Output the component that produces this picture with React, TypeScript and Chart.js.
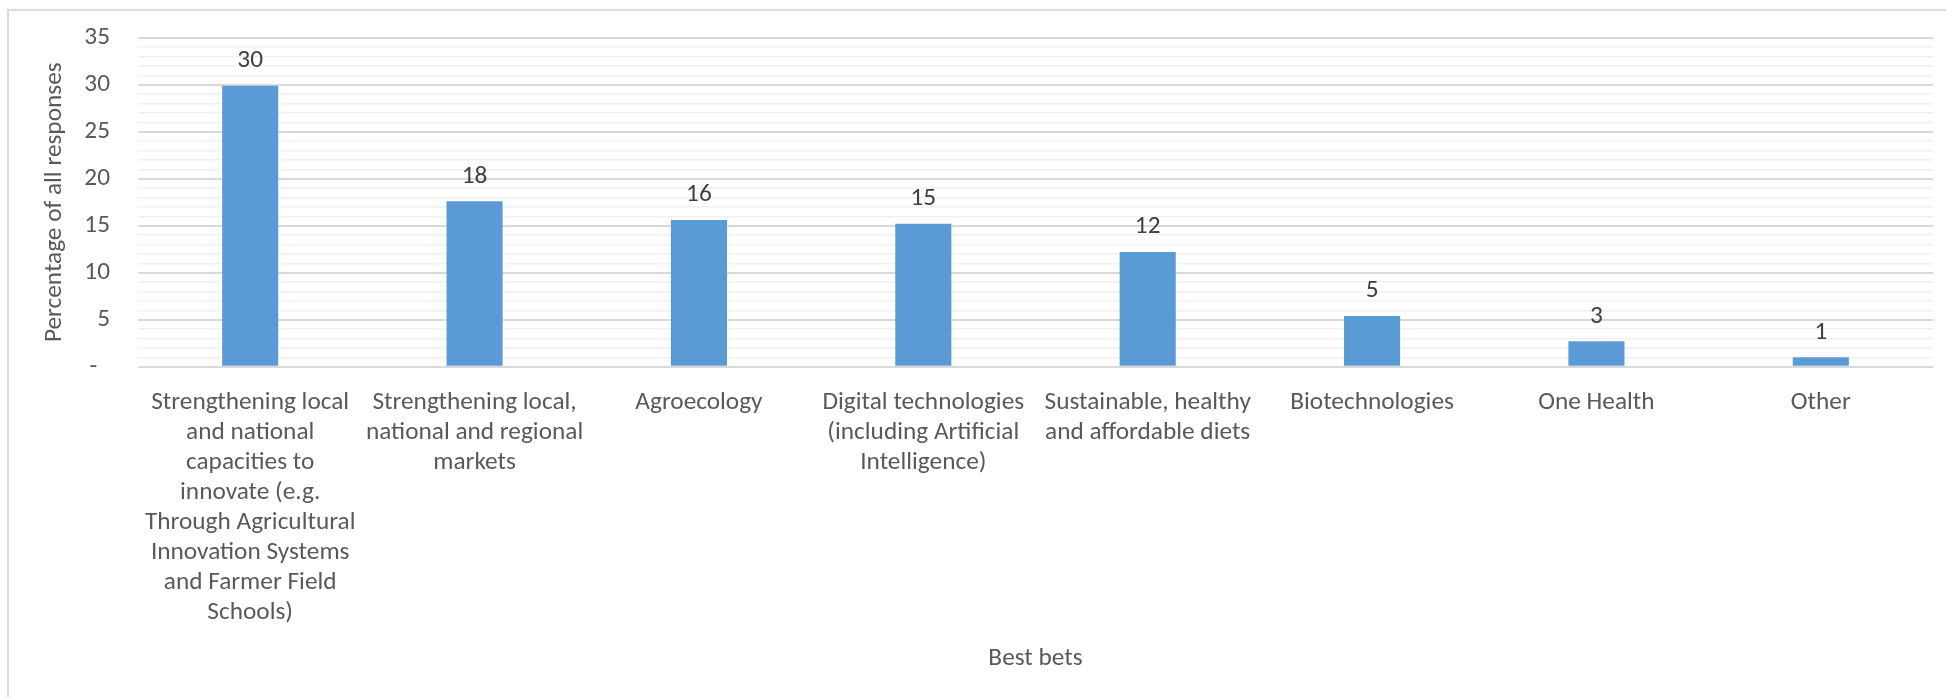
import React, { useEffect, useRef } from 'react';
import { Chart, registerables } from 'chart.js';

Chart.register(...registerables);

// ---- Data ----
const categories: string[][] = [
  ['Strengthening local', 'and national', 'capacities to', 'innovate (e.g.', 'Through Agricultural', 'Innovation Systems', 'and Farmer Field', 'Schools)'],
  ['Strengthening local,', 'national and regional', 'markets'],
  ['Agroecology'],
  ['Digital technologies', '(including Artificial', 'Intelligence)'],
  ['Sustainable, healthy', 'and affordable diets'],
  ['Biotechnologies'],
  ['One Health'],
  ['Other'],
];
const values: number[] = [29.9, 17.6, 15.6, 15.2, 12.2, 5.4, 2.7, 1.0];
const yMin = 0;
const yMax = 35;
const yMinorStep = 1;
const yMajorStep = 5;
const yAxisTitle = 'Percentage of all responses';
const xAxisTitle = 'Best bets';

const FAMILY = 'Carlito, Calibri, Lato, sans-serif';

function fitFontSize(): number {
  const c = document.createElement('canvas').getContext('2d');
  if (!c) return 23;
  c.font = `100px ${FAMILY}`;
  const w = c.measureText('Digital technologies').width;
  return Math.round((100 * 202) / w * 10) / 10;
}

export default function App() {
  const ref = useRef<HTMLCanvasElement | null>(null);

  useEffect(() => {
    if (!ref.current) return;
    const fs = fitFontSize();
    const font = { family: FAMILY, size: fs, lineHeight: '30px' };

    const valueLabels = {
      id: 'valueLabels',
      afterDatasetsDraw(chart: any) {
        const ctx = chart.ctx;
        const meta = chart.getDatasetMeta(0);
        ctx.save();
        ctx.font = `${fs}px ${FAMILY}`;
        ctx.fillStyle = '#404040';
        ctx.textAlign = 'center';
        ctx.textBaseline = 'middle';
        meta.data.forEach((el: any, i: number) => {
          ctx.fillText(String(Math.round(values[i])), el.x, el.y - 25);
        });
        ctx.restore();
      },
    };

    const chart = new Chart(ref.current, {
      type: 'bar',
      data: {
        labels: categories,
        datasets: [
          {
            data: values,
            backgroundColor: '#5b9bd5',
            borderWidth: 0,
            categoryPercentage: 1,
            barPercentage: 0.25,
          },
        ],
      },
      options: {
        responsive: false,
        animation: false,
        layout: { padding: { left: 0, top: 37.7, right: 13, bottom: 0 } },
        plugins: {
          legend: { display: false },
          tooltip: { enabled: false },
        },
        scales: {
          x: {
            grid: { display: false, drawTicks: false },
            border: { display: false },
            ticks: {
              color: '#595959',
              font,
              padding: 21,
              maxRotation: 0,
              minRotation: 0,
              autoSkip: false,
            },
            title: {
              display: true,
              text: xAxisTitle,
              color: '#595959',
              font,
              padding: { top: 0, bottom: 23 },
            },
            afterFit: (s: any) => {
              s.height = 697 - 366.7;
            },
          },
          y: {
            min: yMin,
            max: yMax,
            border: { display: false },
            grid: {
              drawTicks: false,
              color: (c: any) => (c.tick && c.tick.value % yMajorStep === 0 ? '#d9d9d9' : '#f0f0f0'),
              lineWidth: (c: any) => (c.tick && c.tick.value % yMajorStep === 0 ? 2 : 1.5),
            },
            ticks: {
              stepSize: yMinorStep,
              autoSkip: false,
              maxTicksLimit: 100,
              padding: 28,
              color: '#595959',
              font: { family: FAMILY, size: fs, lineHeight: '6px' },
              callback: (v: any) => {
                const n = Number(v);
                if (n % yMajorStep !== 0) return '';
                return n === 0 ? '-\u2002' : String(n);
              },
            },
            title: {
              display: true,
              text: yAxisTitle,
              color: '#595959',
              font,
              padding: { top: 40, bottom: 0 },
            },
            afterFit: (s: any) => {
              s.width = 138;
            },
          },
        },
      },
      plugins: [valueLabels],
    } as any);

    return () => chart.destroy();
  }, []);

  return (
    <div
      style={{
        position: 'fixed',
        left: 0,
        top: 0,
        width: 1946,
        height: 697,
        background: '#ffffff',
        overflow: 'hidden',
      }}
    >
      <div
        style={{
          position: 'absolute',
          left: 7,
          top: 9,
          width: 1960,
          height: 720,
          border: '2px solid #dadada',
          boxSizing: 'border-box',
        }}
      />
      <canvas ref={ref} width={1946} height={697} style={{ position: 'absolute', left: 0, top: 0 }} />
    </div>
  );
}
